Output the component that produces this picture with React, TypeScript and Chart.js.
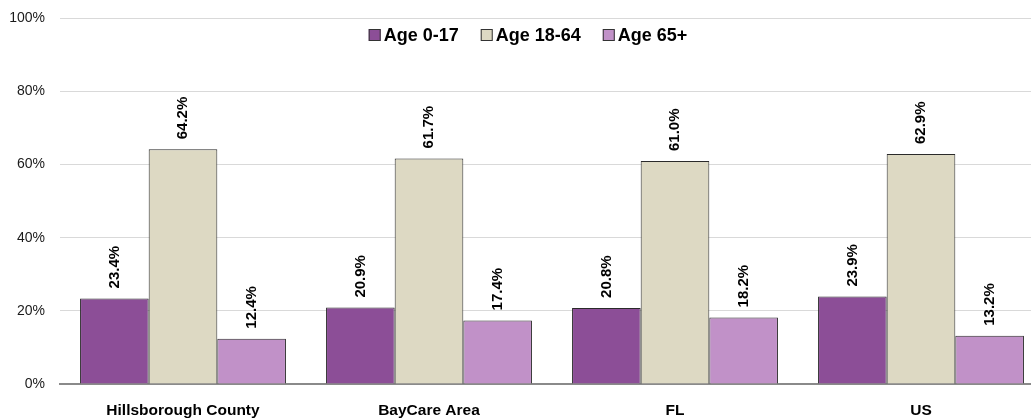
import React, { useEffect, useRef } from "react";
import { Chart, registerables } from "chart.js";

Chart.register(...registerables);

const categories = ["Hillsborough County", "BayCare Area", "FL", "US"];
const seriesNames = ["Age 0-17", "Age 18-64", "Age 65+"];
const age0to17 = [23.4, 20.9, 20.8, 23.9];
const age18to64 = [64.2, 61.7, 61.0, 62.9];
const age65plus = [12.4, 17.4, 18.2, 13.2];
const seriesColors = ["#8C4E97", "#DDD9C3", "#C191C8"];
const yTicks = [0, 20, 40, 60, 80, 100];

const FONT = "'Liberation Sans', Arial, Helvetica, sans-serif";
const SHIFT = 5;

const dataLabelPlugin = {
  id: "dataLabels",
  afterDatasetsDraw(chart: any) {
    const ctx = chart.ctx;
    ctx.save();
    ctx.font = `bold 15px ${FONT}`;
    ctx.fillStyle = "#000";
    ctx.textAlign = "left";
    ctx.textBaseline = "middle";
    chart.data.datasets.forEach((ds: any, di: number) => {
      const meta = chart.getDatasetMeta(di);
      meta.data.forEach((bar: any, i: number) => {
        const v = ds.data[i];
        ctx.save();
        ctx.translate(bar.x, bar.y - 10);
        ctx.rotate(-Math.PI / 2);
        ctx.fillText(v.toFixed(1) + "%", 0, 0);
        ctx.restore();
      });
    });
    ctx.restore();
  },
};

const legendPlugin = {
  id: "customLegend",
  afterDraw(chart: any) {
    const ctx = chart.ctx;
    ctx.save();
    ctx.font = `bold 18px ${FONT}`;
    const box = 12;
    const gapBoxText = 3;
    const gapItems = 22;
    const widths = seriesNames.map((n) => box + gapBoxText + ctx.measureText(n).width);
    const total = widths.reduce((a, b) => a + b, 0) + gapItems * (seriesNames.length - 1);
    let x = 528 - total / 2;
    const y = 35 + SHIFT;
    seriesNames.forEach((n, i) => {
      ctx.fillStyle = seriesColors[i];
      ctx.fillRect(x, y - box / 2, box, box);
      ctx.strokeStyle = "#333";
      ctx.lineWidth = 1;
      ctx.strokeRect(x + 0.5, y - box / 2 + 0.5, box - 1, box - 1);
      ctx.fillStyle = "#000";
      ctx.textAlign = "left";
      ctx.textBaseline = "middle";
      ctx.fillText(n, x + box + gapBoxText, y + 1);
      x += widths[i] + gapItems;
    });
    ctx.restore();
  },
};

export default function App() {
  const ref = useRef<HTMLCanvasElement>(null);
  useEffect(() => {
    if (!ref.current) return;
    const chart = new Chart(ref.current, {
      type: "bar",
      data: {
        labels: categories,
        datasets: [age0to17, age18to64, age65plus].map((d, i) => ({
          label: seriesNames[i],
          data: d,
          backgroundColor: seriesColors[i],
          borderColor: "#2a2a2a",
          borderWidth: 1,
          categoryPercentage: 0.837,
          barPercentage: 1,
        })),
      },
      options: {
        responsive: false,
        animation: false,
        layout: { padding: { top: 14, right: 0, bottom: 0, left: 0 } },
        plugins: {
          legend: { display: false },
          tooltip: { enabled: false },
        },
        scales: {
          x: {
            afterFit(scale: any) {
              scale.height = 34;
            },
            grid: { display: false, drawTicks: false },
            border: { display: true, color: "#8a8a8a", width: 2 },
            ticks: {
              color: "#000",
              padding: 17,
              font: { family: FONT, size: 15.5, weight: "bold" },
              maxRotation: 0,
            },
          },
          y: {
            min: 0,
            max: 100,
            afterFit(scale: any) {
              scale.width = 60;
            },
            afterBuildTicks(scale: any) {
              scale.ticks = yTicks.map((v) => ({ value: v }));
            },
            grid: { color: "#d9d9d9", lineWidth: 1, drawTicks: false },
            border: { display: false },
            ticks: {
              color: "#1a1a1a",
              padding: 15,
              font: { family: FONT, size: 14 },
              callback: (v: any) => v + "%",
            },
          },
        },
      },
      plugins: [dataLabelPlugin, legendPlugin],
    });
    return () => chart.destroy();
  }, []);
  return (
    <div
      style={{
        position: "absolute",
        left: 0,
        top: 0,
        width: 1031,
        height: 418,
        overflow: "hidden",
        background: "#fff",
      }}
    >
      <canvas
        ref={ref}
        width={1044}
        height={418 + SHIFT}
        style={{ position: "absolute", left: 0, top: -SHIFT, width: 1044, height: 418 + SHIFT }}
      />
    </div>
  );
}
